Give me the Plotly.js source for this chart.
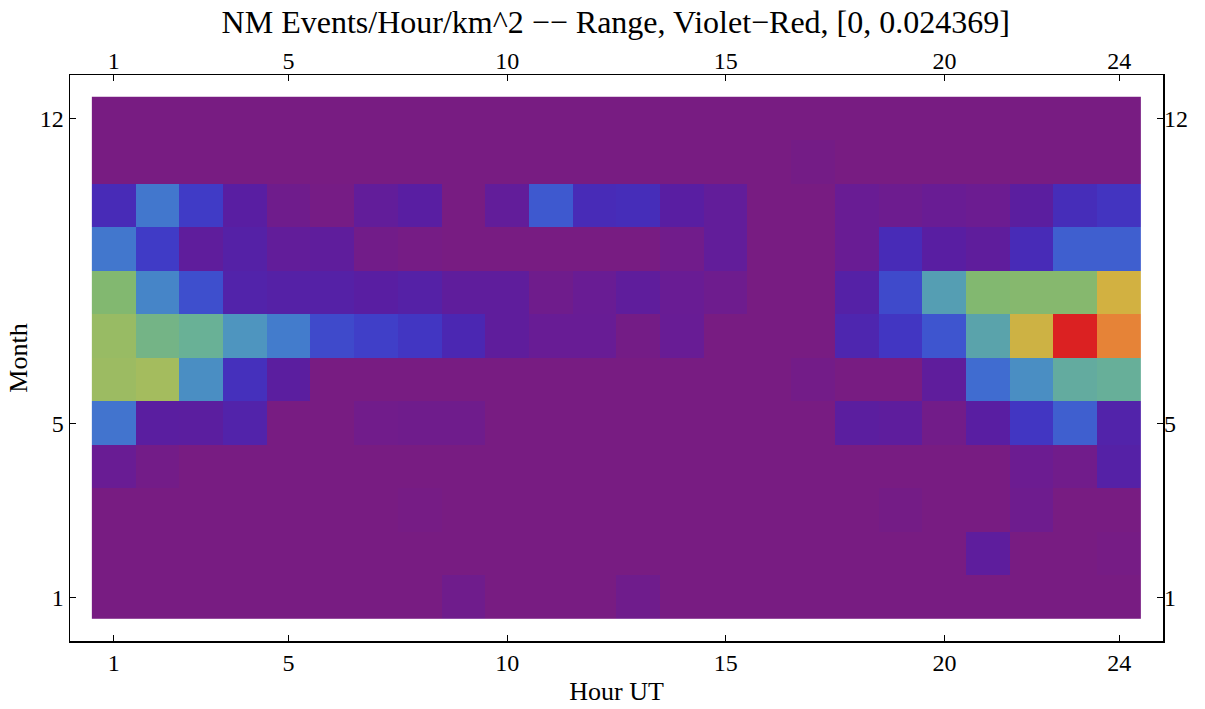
<!DOCTYPE html>
<html>
<head>
<meta charset="utf-8">
<script src="https://cdn.plot.ly/plotly-3.0.1.min.js"></script>
<style>html,body{margin:0;padding:0;background:#fff;}#chart{width:1205px;height:709px;}</style>
</head>
<body>
<div id="chart"></div>
<script>
// Hours (UT) and months
const hours = [1,2,3,4,5,6,7,8,9,10,11,12,13,14,15,16,17,18,19,20,21,22,23,24];
const months = [1,2,3,4,5,6,7,8,9,10,11,12];
const xTickVals = [1,5,10,15,20,24];
const yTickVals = [1,5,12];
const zMax = 0.024369;

// Events/Hour/km^2, one array per month (hours 1..24)
const jan = [0,0,0,0,0,0,0,0,0.0007,0,0,0,0.0007,0,0,0,0,0,0,0,0,0,0,0];
const feb = [0,0,0,0,0,0,0,0,0,0,0,0,0,0,0,0,0,0,0,0,0.0020,0,0,0.0002];
const mar = [0,0,0,0,0,0,0,0.0002,0,0,0,0,0,0,0,0,0,0,0.0003,0,0,0.0008,0,0];
const apr = [0.0012,0.0004,0,0,0,0,0,0,0,0,0,0,0,0,0,0,0,0,0,0,0,0.0010,0.0006,0.0027];
const may = [0.0078,0.0023,0.0022,0.0029,0,0,0.0006,0.0007,0.0007,0,0,0,0,0,0,0,0,0.0022,0.0020,0.0005,0.0024,0.0046,0.0066,0.0029];
const jun = [0.0149,0.0154,0.0093,0.0041,0.0022,0,0,0,0,0,0,0,0,0,0,0,0.0004,0,0,0.0019,0.0073,0.0093,0.0117,0.0120];
const jul = [0.0146,0.0127,0.0122,0.0097,0.0083,0.0056,0.0051,0.0046,0.0034,0.0019,0.0013,0.0013,0.0003,0.0013,0,0,0,0.0032,0.0046,0.0061,0.0110,0.0180,0.024369,0.0214];
const aug = [0.0134,0.0088,0.0058,0.0029,0.0027,0.0027,0.0024,0.0027,0.0019,0.0019,0.0007,0.0012,0.0019,0.0012,0.0008,0,0,0.0027,0.0056,0.0105,0.0134,0.0136,0.0136,0.0183];
const sep = [0.0080,0.0049,0.0019,0.0027,0.0017,0.0019,0.0005,0.0002,0,0,0,0,0,0.0006,0.0017,0,0,0.0012,0.0037,0.0024,0.0019,0.0037,0.0066,0.0066];
const oct = [0.0037,0.0080,0.0049,0.0024,0.0007,0.0002,0.0017,0.0024,0,0.0017,0.0063,0.0037,0.0039,0.0024,0.0017,0,0,0.0012,0.0009,0.0012,0.0010,0.0022,0.0039,0.0044];
const nov = [0,0,0,0,0,0,0,0,0,0,0,0,0,0,0,0,0.0003,0,0,0,0,0,0,0];
const dec = [0,0,0,0,0,0,0,0,0,0,0,0,0,0,0,0,0,0,0,0,0,0,0,0];

const violetRed = [
  [0.00,'rgb(120,28,130)'],
  [0.05,'rgb(105,28,148)'],
  [0.10,'rgb(88,30,162)'],
  [0.15,'rgb(72,42,182)'],
  [0.20,'rgb(64,58,198)'],
  [0.25,'rgb(62,85,207)'],
  [0.30,'rgb(64,108,208)'],
  [0.35,'rgb(68,128,203)'],
  [0.40,'rgb(78,150,190)'],
  [0.45,'rgb(90,163,172)'],
  [0.50,'rgb(105,177,150)'],
  [0.55,'rgb(130,184,112)'],
  [0.60,'rgb(152,187,100)'],
  [0.65,'rgb(170,188,90)'],
  [0.75,'rgb(210,177,65)'],
  [0.88,'rgb(230,130,55)'],
  [1.00,'rgb(219,33,34)']
];

const z = [jan,feb,mar,apr,may,jun,jul,aug,sep,oct,nov,dec];
const font = {family:'"Liberation Serif", "Times New Roman", serif', color:'#000'};

const trace = {
  type:'heatmap', x:hours, y:months, z:z,
  zmin:0, zmax:zMax, colorscale:violetRed, showscale:false,
  xgap:0, ygap:0, hoverinfo:'skip'
};
// Invisible trace to activate the mirrored (top/right) labelled axes
const ghost = {type:'scatter', x:[1], y:[1], xaxis:'x2', yaxis:'y2', mode:'markers',
  marker:{opacity:0}, hoverinfo:'skip', showlegend:false};

const axBase = {
  ticks:'inside', ticklen:6, tickwidth:1, tickcolor:'#000',
  showgrid:false, zeroline:false,
  tickfont:Object.assign({size:24}, font)
};

const layout = {
  width:1205, height:709,
  margin:{l:70, r:42, t:75, b:68},
  paper_bgcolor:'#fff', plot_bgcolor:'#fff',
  showlegend:false,
  title:{text:'NM Events/Hour/km^2 −− Range, Violet−Red, [0, 0.024369]',
         font:Object.assign({size:32}, font), x:0.511, xanchor:'center',
         y:0.969, yanchor:'middle', yref:'container'},
  xaxis:Object.assign({}, axBase, {range:[0,25], tickvals:xTickVals, showline:true, linecolor:'#000', linewidth:1.5, mirror:true,
    title:{text:'Hour UT', font:Object.assign({size:26}, font), standoff:6}}),
  xaxis2:Object.assign({}, axBase, {range:[0,25], tickvals:xTickVals, overlaying:'x', side:'top', anchor:'y', showline:false}),
  yaxis:Object.assign({}, axBase, {range:[0,13], tickvals:yTickVals, showline:true, linecolor:'#000', linewidth:1.5, mirror:true,
    title:{text:'Month', font:Object.assign({size:26}, font), standoff:4}}),
  yaxis2:Object.assign({}, axBase, {range:[0,13], tickvals:yTickVals, overlaying:'y', side:'right', anchor:'x', showline:false})
};

Plotly.newPlot('chart', [trace, ghost], layout, {displayModeBar:false, staticPlot:true});
</script>
</body>
</html>
